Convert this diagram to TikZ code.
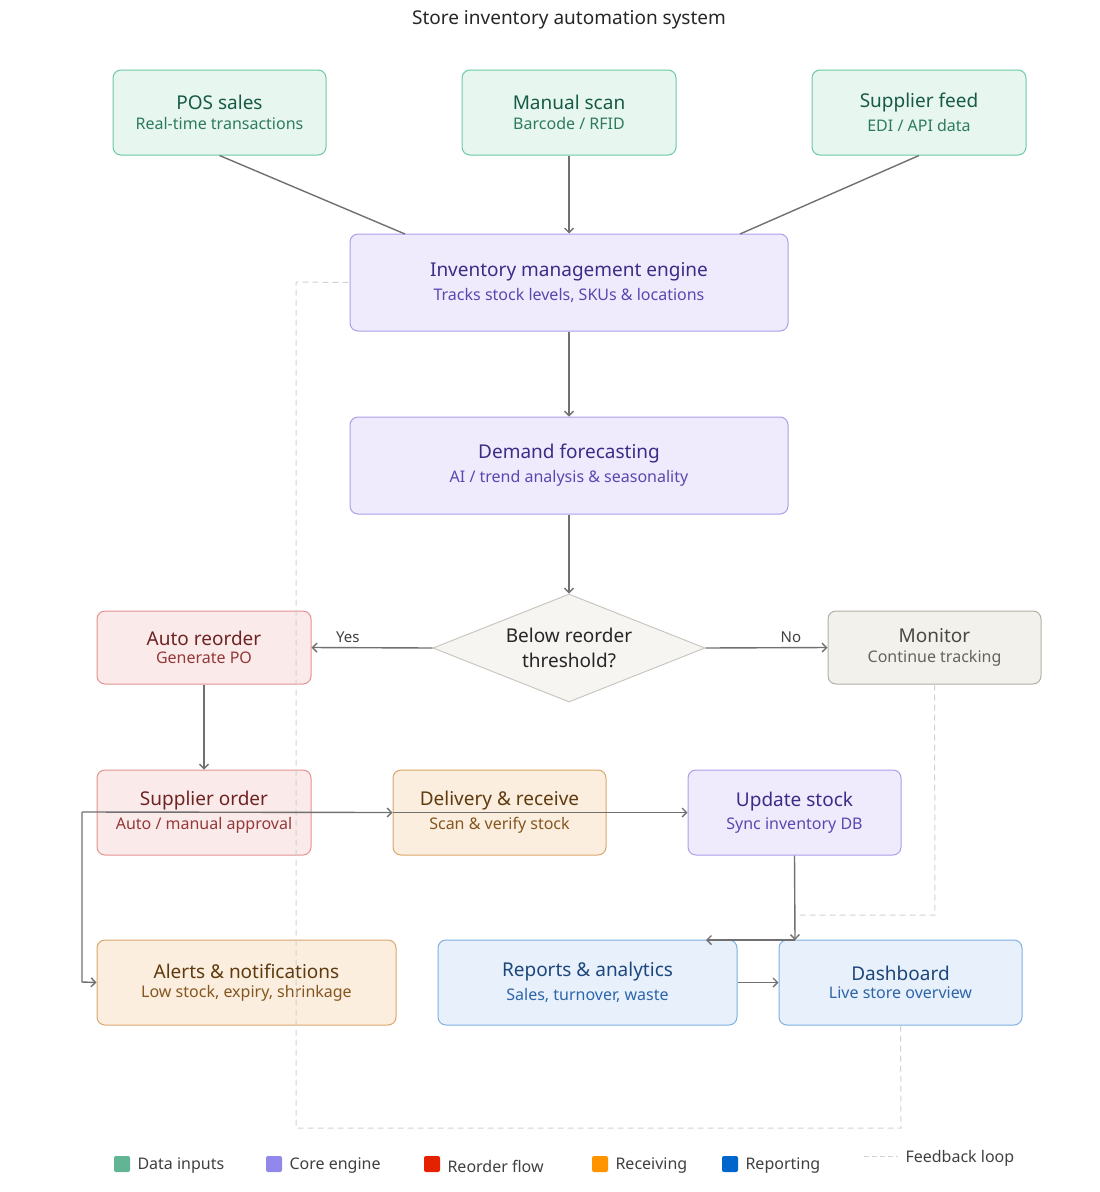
\documentclass[tikz,border=0pt]{standalone}
\usepackage{fontspec}
\setmainfont{Noto Sans}
\usetikzlibrary{arrows.meta,shapes.geometric}
\definecolor{gF}{HTML}{E7F7F0}\definecolor{gD}{HTML}{6CC9A4}\definecolor{gT}{HTML}{175A45}\definecolor{gS}{HTML}{2E7A60}
\definecolor{pF}{HTML}{EFEBFD}\definecolor{pD}{HTML}{AC9FEA}\definecolor{pT}{HTML}{3B2C86}\definecolor{pS}{HTML}{5A48B0}
\definecolor{rF}{HTML}{FBEAEA}\definecolor{rD}{HTML}{E29292}\definecolor{rT}{HTML}{6E2323}\definecolor{rS}{HTML}{943838}
\definecolor{oF}{HTML}{FBEEDF}\definecolor{oD}{HTML}{D9A66C}\definecolor{oT}{HTML}{5F3A0E}\definecolor{oS}{HTML}{85561F}
\definecolor{bF}{HTML}{E7F0FB}\definecolor{bD}{HTML}{7FB0E2}\definecolor{bT}{HTML}{1D477C}\definecolor{bS}{HTML}{2D65A8}
\definecolor{nF}{HTML}{F3F1EC}\definecolor{nD}{HTML}{B3AFA6}\definecolor{nT}{HTML}{4A4844}\definecolor{nS}{HTML}{66635E}
\definecolor{ln}{HTML}{707070}\definecolor{fb}{HTML}{D2D2D2}
\newcommand{\bx}[2]{{\fontsize{19}{22}\selectfont\bfseries #1}\\[6pt]{\fontsize{16}{19}\selectfont #2}}
\tikzset{
 box/.style={draw=#1D,fill=#1F,text=#1T,rounded corners=8pt,line width=1pt,align=center,inner sep=0pt},
 conn/.style={draw=ln,line width=1.4pt,-{Straight Barb[length=4.5pt,width=9pt]}},
 plain/.style={draw=ln,line width=1.4pt},
 fbk/.style={draw=fb,line width=1pt,dash pattern=on 6pt off 4pt},
 lab/.style={font=\fontsize{15}{18}\selectfont,text=black!75},
 leg/.style={font=\fontsize{16}{19}\selectfont,text=black!75,anchor=west},
}
\begin{document}
\begin{tikzpicture}[x=1pt,y=-1pt]
\useasboundingbox (0,0) rectangle (1100,1192);
\node[font=\fontsize{19}{22}\selectfont\bfseries,text=black!85] (title) at (569,20) {Store inventory automation system};
% nodes
\node[box=g,minimum width=213,minimum height=85] (pos) at (219.5,112.5) {\bx{POS sales}{\color{gS}Real-time transactions}};
\node[box=g,minimum width=214,minimum height=85] (man) at (569,112.5) {\bx{Manual scan}{\color{gS}Barcode / RFID}};
\node[box=g,minimum width=214,minimum height=85] (sup) at (919,112.5) {\bx{Supplier feed}{\color{gS}EDI / API data}};
\node[box=p,minimum width=438,minimum height=97] (eng) at (569,282.5) {\bx{Inventory management engine}{\color{pS}Tracks stock levels, SKUs \& locations}};
\node[box=p,minimum width=438,minimum height=97] (dem) at (569,465.5) {\bx{Demand forecasting}{\color{pS}AI / trend analysis \& seasonality}};
\node[diamond,draw=nD!70,fill=nF!70,line width=1pt,minimum width=272,minimum height=108,inner sep=0pt,aspect=2.5,text=black!85,align=center,font=\fontsize{19}{25}\selectfont\bfseries] (dia) at (569,648) {Below reorder\\threshold?};
\node[box=r,minimum width=214,minimum height=73] (ar) at (204,647.5) {\bx{Auto reorder}{\color{rS}Generate PO}};
\node[box=n,minimum width=213,minimum height=73] (mon) at (934.5,647.5) {\bx{Monitor}{\color{nS}Continue tracking}};
\node[box=r,minimum width=214,minimum height=85] (so) at (204,812.5) {\bx{Supplier order}{\color{rS}Auto / manual approval}};
\node[box=o,minimum width=213,minimum height=85] (del) at (499.5,812.5) {\bx{Delivery \& receive}{\color{oS}Scan \& verify stock}};
\node[box=p,minimum width=213,minimum height=85] (upd) at (794.5,812.5) {\bx{Update stock}{\color{pS}Sync inventory DB}};
\node[box=o,minimum width=299,minimum height=85] (al) at (246.5,982.5) {\bx{Alerts \& notifications}{\color{oS}Low stock, expiry, shrinkage}};
\node[box=b,minimum width=299,minimum height=85] (rep) at (587.5,982.5) {\bx{Reports \& analytics}{\color{bS}Sales, turnover, waste}};
\node[box=b,minimum width=243,minimum height=85] (dash) at (900.5,982.5) {\bx{Dashboard}{\color{bS}Live store overview}};
% coordinates
\coordinate (c1) at (82,812);
\coordinate (c2) at (82,982);
\coordinate (j1) at (795,940);
\coordinate (j2) at (706,940);
\coordinate (f1) at (935,915);
\coordinate (f2) at (797,915);
\coordinate (g1) at (901,1128);
\coordinate (g2) at (296,1128);
\coordinate (g3) at (296,282);
% feedback
\draw[fbk] (mon.south) -- (f1) -- (f2);
\draw[fbk] (dash.south) -- (g1) -- (g2) -- (g3) -- (eng.west);
% connectors
\draw[plain] (pos.south) -- (405,234);
\draw[conn] (man.south) -- (eng.north);
\draw[plain] (sup.south) -- (740,234);
\draw[conn] (eng.south) -- (dem.north);
\draw[conn] (dem.south) -- (dia.north);
\draw[conn] (dia.west) -- node[lab,above,pos=0.7,yshift=1pt]{Yes} (ar.east);
\draw[conn] (dia.east) -- node[lab,above,pos=0.7,yshift=1pt]{No} (mon.west);
\draw[conn] (ar.south) -- (so.north);
\draw[conn] (c1) -- (del.west);
\draw[conn] (del.west) -- (upd.west);
\draw[conn] (c1) -- (c2) -- (al.west);
\draw[conn] (upd.south) -- (j1);
\draw[conn] (j1) -- (j2);
\draw[conn] (rep.east) -- (dash.west);
% legend
\foreach \x/\c/\t [count=\i] in {122/gD/Data inputs,274/pD/Core engine,432/rS/Reorder flow,600/oD/Receiving,730/bS/Reporting}{
  \node[leg] (lt\i) at (\x+12,1166) {\t};
}
\node[fill=gD!90!black,rounded corners=2pt,minimum size=16,inner sep=0pt] (sq1) at (122,1164) {};
\node[fill=pD!85!blue,rounded corners=2pt,minimum size=16,inner sep=0pt] (sq2) at (274,1164) {};
\node[fill=red!70!orange!90!black,rounded corners=2pt,minimum size=16,inner sep=0pt] (sq3) at (432,1164) {};
\node[fill=orange!85!yellow,rounded corners=2pt,minimum size=16,inner sep=0pt] (sq4) at (600,1164) {};
\node[fill=blue!50!cyan!80!black,rounded corners=2pt,minimum size=16,inner sep=0pt] (sq5) at (730,1164) {};
\coordinate (lf1) at (864,1156);\coordinate (lf2) at (898,1156);
\draw[fbk,dash pattern=on 5pt off 3pt] (lf1) -- (lf2);
\node[leg] (lf) at (902,1158) {Feedback loop};
\end{tikzpicture}
\end{document}
